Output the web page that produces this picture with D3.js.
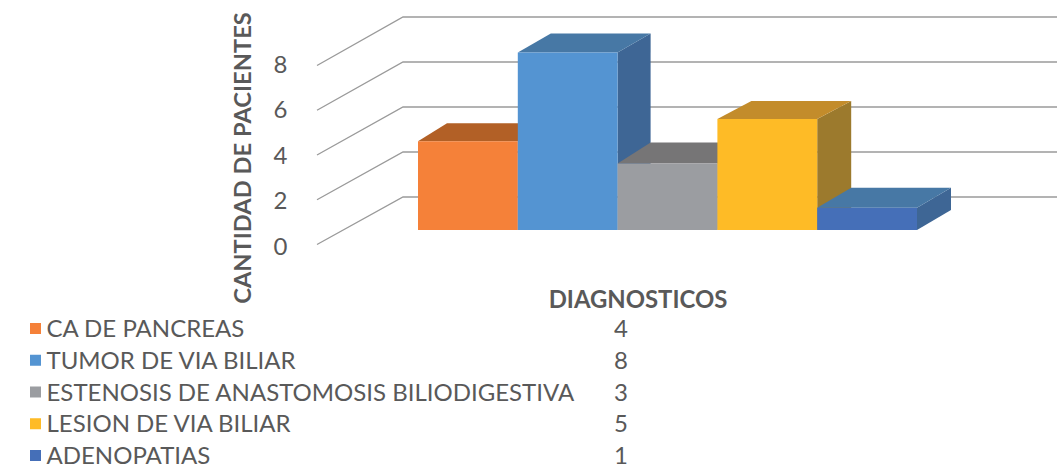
<!DOCTYPE html>
<html><head><meta charset="utf-8">
<script src="https://cdn.jsdelivr.net/npm/d3@7"></script>
<style>html,body{margin:0;background:#fff}svg{display:block}text{font-family:Lato,sans-serif;fill:#595959}</style>
</head><body><svg id="c" width="1059" height="470"></svg>
<script>
const categories=["CA DE PANCREAS","TUMOR DE VIA BILIAR","ESTENOSIS DE ANASTOMOSIS BILIODIGESTIVA","LESION DE VIA BILIAR","ADENOPATIAS"];
const values=[4,8,3,5,1];
const frontColors=["#f58139","#5494d2","#9b9da1","#febb26","#456fb8"];
const topColors=["#b26026","#4778a5","#767576","#c38c2b","#4778a5"];
const sideColors=["#b26026","#3e6695","#767576","#9c7a2d","#3e6695"];
const yTicks=[0,2,4,6,8];
const xTitle="DIAGNOSTICOS", yTitle="CANTIDAD DE PACIENTES";

const svg=d3.select("#c");
const x=d3.scaleBand().domain(categories).range([418,917]);
const y=d3.scaleLinear().domain([0,8]).range([230,52.5]);
const yAxisFront=d3.scaleLinear().domain([0,8]).range([244.5,65.5]);
const yLabels=d3.scaleLinear().domain([0,8]).range([246.5,64.5]);
const yWall=d3.scaleLinear().domain([0,8]).range([197,17]);
const wallLeft=403, wallRight=1057, axisX=317;
const depthX=[29,33,33,34,34], depthY=[-18,-19,-21,-18,-20];

const grid=svg.append("g");
yTicks.forEach(t=>{
  grid.append("path")
    .attr("d",d3.line()([[axisX,yAxisFront(t)],[wallLeft,yWall(t)],[wallRight,yWall(t)]]))
    .attr("fill","none").attr("stroke","#9a9a9a").attr("stroke-width",1.3);
});

const bars=svg.append("g").selectAll("g").data(categories).join("g");
bars.each(function(c,i){
  const g=d3.select(this), x0=x(c), x1=x0+x.bandwidth(), t=y(values[i]), b=y(0);
  const dx=depthX[i], dy=depthY[i];
  const poly=(pts,fill)=>g.append("polygon").attr("points",pts.map(p=>p.join(",")).join(" ")).attr("fill",fill);
  poly([[x1,t],[x1+dx,t+dy],[x1+dx,b+dy],[x1,b]],sideColors[i]);
  poly([[x0,t],[x0+dx,t+dy],[x1+dx,t+dy],[x1,t]],topColors[i]);
  poly([[x0,t],[x1,t],[x1,b],[x0,b]],frontColors[i]);
});

const axis=svg.append("g").attr("transform","translate(287.5,0)")
  .call(d3.axisLeft(yLabels).tickValues(yTicks).tickSize(0).tickPadding(0).tickFormat(d3.format("d")));
axis.select(".domain").remove();
axis.selectAll("text").style("font-family","Lato,sans-serif").style("font-size","24px").style("fill","#595959");

svg.append("text").attr("transform","translate(251,158) rotate(-90)")
  .attr("text-anchor","middle").style("font-size","23.7px").style("font-weight","700").text(yTitle);
svg.append("text").attr("x",638).attr("y",307.5).attr("text-anchor","middle")
  .style("font-size","23.9px").style("font-weight","700").text(xTitle);

const rowY=d3.scalePoint().domain(categories).range([329,456]);
const rows=svg.append("g").selectAll("g").data(categories).join("g")
  .attr("transform",c=>`translate(0,${rowY(c)})`);
rows.append("rect").attr("x",30).attr("y",-6).attr("width",11).attr("height",11)
  .attr("fill",(c,i)=>frontColors[i]);
rows.append("text").attr("x",46.5).attr("y",8).style("font-size","24px").text(c=>c);
rows.append("text").attr("x",621).attr("y",8).attr("text-anchor","middle").style("font-size","24px")
  .text((c,i)=>values[i]);
</script></body></html>
